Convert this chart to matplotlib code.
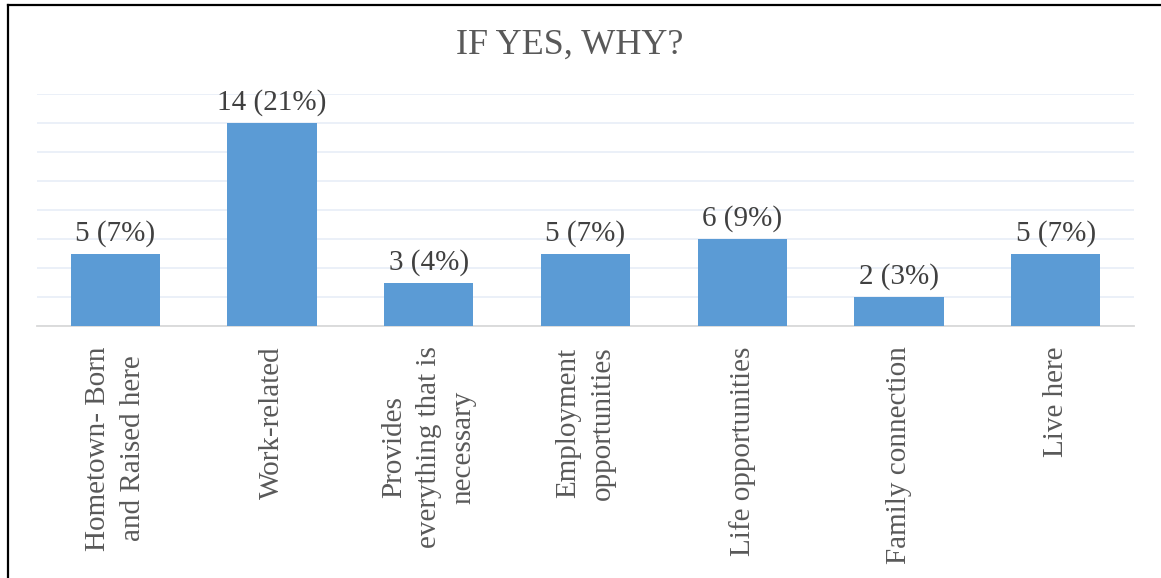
import matplotlib
matplotlib.use("Agg")
import matplotlib.pyplot as plt

categories = ["Hometown- Born\nand Raised here", "Work-related",
              "Provides\neverything that is\nnecessary", "Employment\nopportunities",
              "Life opportunities", "Family connection", "Live here"]
counts = [5, 14, 3, 5, 6, 2, 5]
percents = [7, 21, 4, 7, 9, 3, 7]
title = "IF YES, WHY?"

plt.rcParams['font.family'] = ['Liberation Serif', 'DejaVu Serif']

W, H = 1161, 578
fig = plt.figure(figsize=(W/100, H/100), dpi=100)
ax = fig.add_axes([37/W, (H-326)/H, (1134-37)/W, (326-94)/H])

x = list(range(len(counts)))
bars = ax.bar(x, counts, width=0.57, color="#5B9BD5", zorder=3)
for xi, c, p in zip(x, counts, percents):
    ax.annotate(f"{c} ({p}%)", (xi, c), xytext=(0, 5), textcoords="offset points",
                ha="center", va="bottom", fontsize=21, color="#404040")

ax.set_xlim(-0.5, len(counts) - 0.5)
ax.set_ylim(0, 16)
ax.set_yticks(range(0, 17, 2))
ax.yaxis.grid(True, color="#E8EEF7", linewidth=1.2, zorder=0)
ax.tick_params(axis="y", left=False, labelleft=False)
ax.tick_params(axis="x", bottom=False, pad=11)
ax.set_xticks(x)
ax.set_xticklabels(categories, rotation=90, fontsize=21, color="#595959",
                   ha="center", va="top", multialignment="center", linespacing=1.42)
for s in ["top", "right", "left"]:
    ax.spines[s].set_visible(False)
ax.spines["bottom"].set_color("#D9D9D9")
ax.spines["bottom"].set_linewidth(1.3)

fig.text(570/W, 1 - 45/H, title, ha="center", va="center", fontsize=26, color="#595959")

# outer border lines (left and top)
fig.add_artist(plt.Line2D([7.5/W, 7.5/W], [0, 1 - 5/H], color="black", lw=1.6, transform=fig.transFigure))
fig.add_artist(plt.Line2D([7.5/W, 1], [1 - 5/H, 1 - 5/H], color="black", lw=1.6, transform=fig.transFigure))

fig.savefig("out.png", dpi=100, facecolor="white")
